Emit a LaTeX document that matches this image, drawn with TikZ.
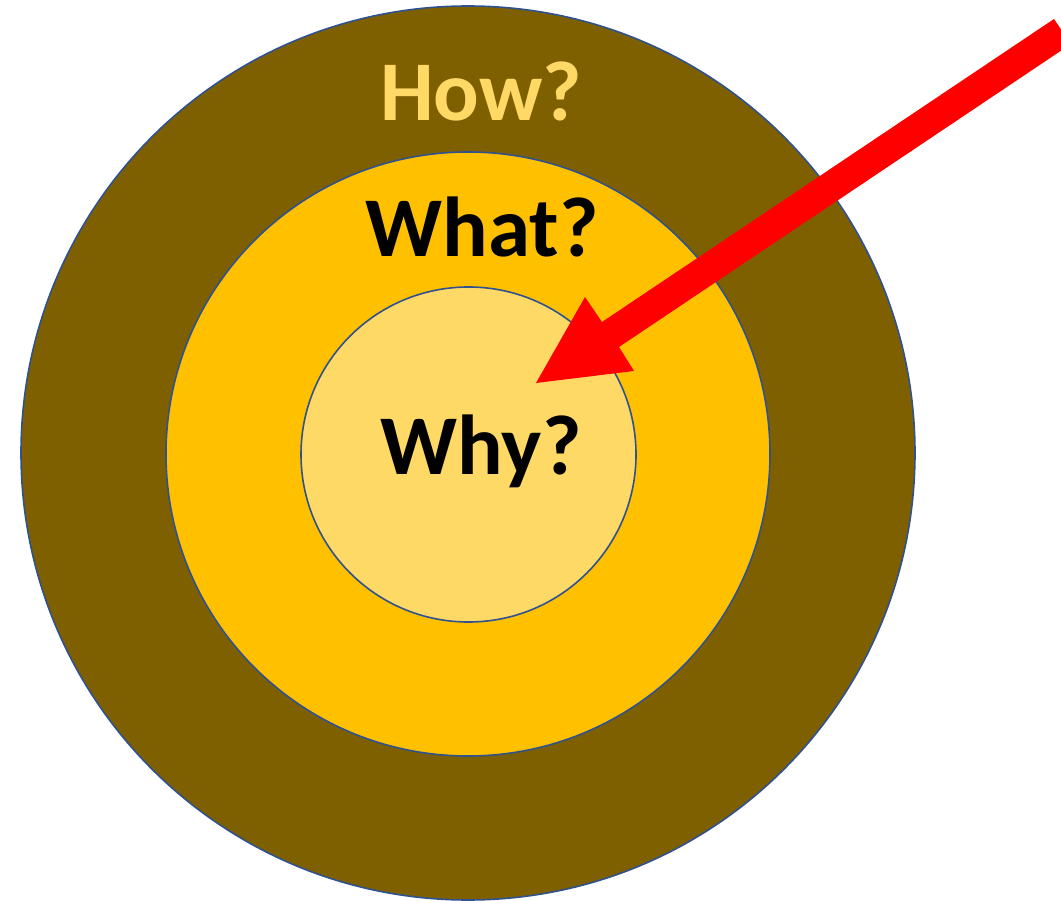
\documentclass[tikz,border=0pt]{standalone}
\usepackage{fontspec}
\setmainfont{Carlito}
\definecolor{ringblue}{HTML}{2F528F}
\definecolor{howbrown}{HTML}{7F6000}
\definecolor{whatgold}{HTML}{FFC000}
\definecolor{whylight}{HTML}{FFD966}
\definecolor{arrowred}{HTML}{FF0000}
\tikzset{
  ring/.style={circle, draw=ringblue, line width=1.6pt, inner sep=0pt},
  word/.style={anchor=base, inner sep=0pt, font=\fontsize{85}{92}\selectfont\bfseries}
}
\begin{document}
\begin{tikzpicture}[x=1pt, y=-1pt]
\useasboundingbox (0,0) rectangle (1061,901);
\node[ring, fill=howbrown, minimum size=894pt] (how) at (468,453) {};
\node[ring, fill=whatgold, minimum size=604pt] (what) at (468,454) {};
\node[ring, fill=whylight, minimum size=335pt] (why) at (468.5,454.5) {};
\node[word, text=whylight] (howt) at (481,121) {How?};
\node[word, text=black] (whatt) at (482,257) {What?};
\node[word, text=black] (whyt) at (481,474) {Why?};
\begin{scope}
\clip (0,0) rectangle (1061,901);
\coordinate (tip) at (536,383);
\fill[arrowred] (tip) -- (585,297) -- (602,322) -- (1054,19) -- (1071,44) -- (619,347) -- (634,371) -- cycle;
\end{scope}
\end{tikzpicture}
\end{document}
